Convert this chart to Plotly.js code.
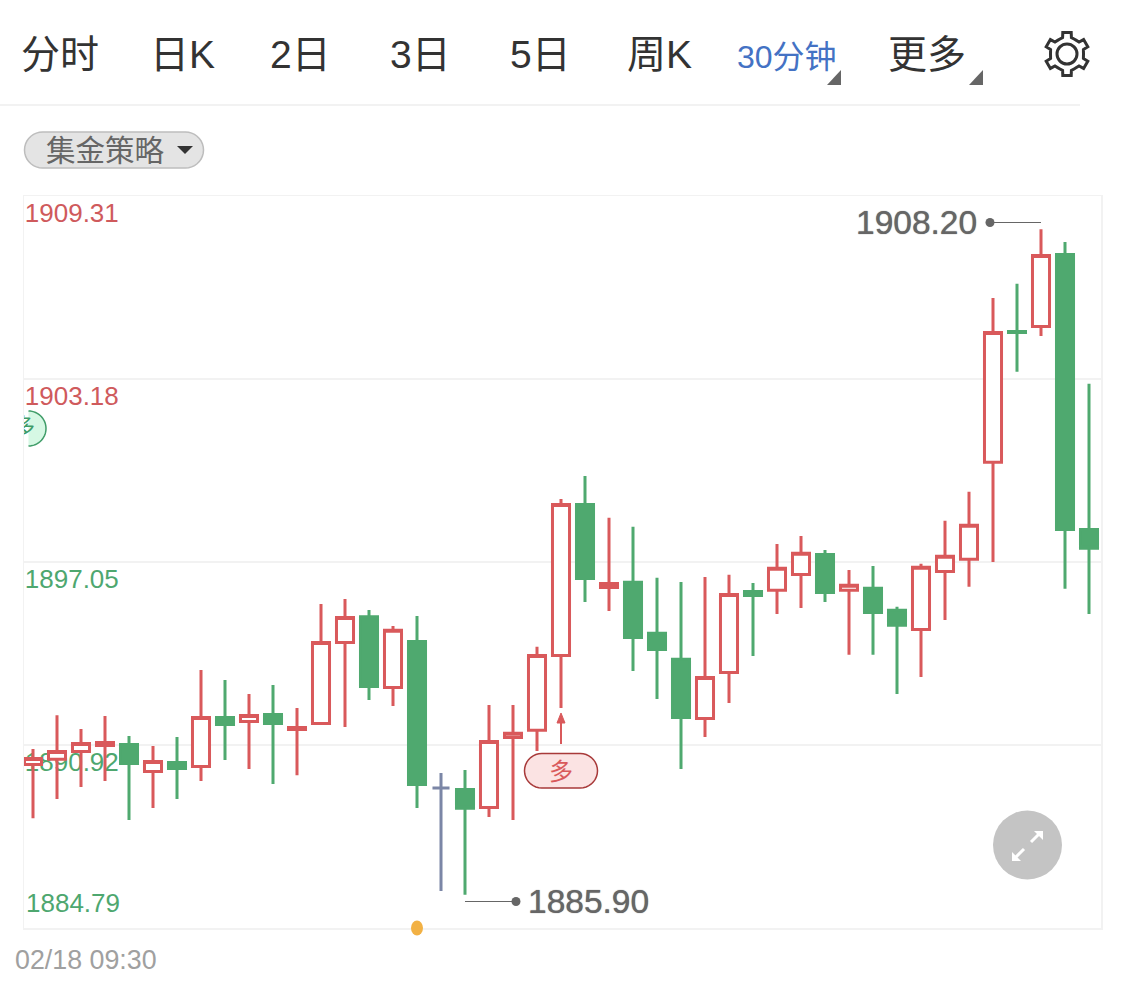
<!DOCTYPE html>
<html>
<head>
<meta charset="utf-8">
<script src="https://cdn.plot.ly/plotly-3.0.1.min.js"></script>
<style>html,body{margin:0;padding:0;background:#fff;overflow:hidden}#chart{width:1125px;height:984px}</style>
</head>
<body>
<div id="chart"></div>
<script>
const openPrices  = [1890.27,1890.44,1890.70,1890.90,1890.94,1890.03,1890.33,1890.20,1891.84,1891.71,1891.94,1891.44,1891.64,1894.35,1895.22,1892.85,1894.39,1889.48,1889.43,1888.83,1891.17,1891.41,1893.92,1898.98,1896.20,1896.37,1894.66,1893.79,1891.81,1893.35,1896.06,1896.10,1896.63,1897.30,1896.10,1896.17,1895.43,1894.79,1896.73,1897.14,1900.39,1904.77,1904.94,1907.35,1898.14];
const highPrices  = [1890.79,1891.92,1891.46,1891.89,1891.22,1890.89,1891.19,1893.43,1893.10,1892.63,1892.93,1892.16,1895.64,1895.81,1895.44,1894.91,1895.24,1889.98,1890.08,1892.26,1892.26,1894.21,1899.16,1899.93,1898.53,1898.23,1896.52,1896.38,1896.55,1896.62,1896.35,1897.65,1897.92,1897.45,1896.78,1896.92,1895.55,1896.99,1898.43,1899.40,1905.89,1906.37,1908.20,1907.77,1903.02];
const lowPrices   = [1888.47,1889.11,1889.51,1889.71,1888.41,1888.81,1889.11,1889.71,1890.42,1890.12,1889.61,1889.91,1891.59,1891.52,1892.43,1892.23,1888.81,1886.03,1885.90,1888.51,1888.41,1890.72,1892.16,1895.71,1895.41,1893.40,1892.46,1890.12,1891.19,1892.33,1893.90,1895.31,1895.51,1895.71,1893.94,1893.94,1892.63,1893.20,1895.11,1896.22,1897.05,1903.42,1904.62,1896.15,1895.31];
const closePrices = [1890.47,1890.70,1890.97,1891.00,1890.30,1890.37,1890.13,1891.84,1891.61,1891.91,1891.64,1891.51,1894.35,1895.19,1892.88,1894.76,1889.60,1889.48,1888.80,1891.04,1891.31,1893.92,1898.98,1896.50,1896.33,1894.52,1894.12,1891.84,1893.18,1895.96,1895.93,1896.84,1897.34,1896.03,1896.27,1895.36,1894.93,1896.87,1897.24,1898.28,1904.74,1904.74,1907.32,1898.14,1897.51];
const dojiIndex = 17;
const gridValues = [1909.31,1903.18,1897.05,1890.92];
const gridLabels = ['1909.31','1903.18','1897.05','1890.92'];
const gridColors = ['#cf5a5c','#cf5a5c','#4ea76f','#4ea76f'];
const bottomValue = 1884.79;
const tabs = ['分时','日K','2日','3日','5日','周K','更多'];
const tabLeft = [21,150,270,390,510,627,888];
const highLabel = '1908.20', lowLabel = '1885.90', dateLabel = '02/18 09:30';

const RED='#d9595b', GREEN='#4fa96f', GRAY='#7b86a6';
const FONT='"Liberation Sans","Noto Sans CJK SC",sans-serif';
const W=1125,H=984;
const fx=x=>x/W, fy=y=>1-y/H;
const idx=openPrices.map((_,i)=>i);
const main=idx.filter(i=>i!==dojiIndex);
const pick=(a,l)=>l.map(i=>a[i]);

const traces=[
 {type:'candlestick',x:main,open:pick(openPrices,main),high:pick(highPrices,main),low:pick(lowPrices,main),close:pick(closePrices,main),
  whiskerwidth:0,increasing:{line:{color:RED,width:3},fillcolor:'#ffffff'},decreasing:{line:{color:GREEN,width:3},fillcolor:GREEN},showlegend:false,hoverinfo:'skip'},
 {type:'candlestick',x:[dojiIndex],open:[openPrices[dojiIndex]],high:[highPrices[dojiIndex]],low:[lowPrices[dojiIndex]],close:[closePrices[dojiIndex]],
  whiskerwidth:0,increasing:{line:{color:GRAY,width:3},fillcolor:GRAY},decreasing:{line:{color:GRAY,width:3},fillcolor:GRAY},showlegend:false,hoverinfo:'skip'},
 {type:'scatter',mode:'text',x:[-0.375],y:[1901.52],text:['多'],textposition:'middle center',textfont:{family:FONT,size:22,color:'#3f9c68'},cliponaxis:true,showlegend:false,hoverinfo:'skip'}
];

function gearPath(cx,cy){
 const pts=[];
 for(let k=0;k<6;k++){
  const a=-90+60*k;
  [[a-27,16.5],[a-15,17],[a-11,22],[a+11,22],[a+15,17],[a+27,16.5]].forEach(p=>{
   const r=p[0]*Math.PI/180;pts.push([cx+p[1]*Math.cos(r),cy+p[1]*Math.sin(r)]);
  });
 }
 return 'M'+pts.map(p=>fx(p[0]).toFixed(5)+','+fy(p[1]).toFixed(5)).join(' L')+' Z';
}
const poly=(pts)=>'M'+pts.map(p=>fx(p[0]).toFixed(5)+','+fy(p[1]).toFixed(5)).join(' L')+' Z';
const open=(pts)=>'M'+pts.map(p=>fx(p[0]).toFixed(5)+','+fy(p[1]).toFixed(5)).join(' L');
function pill(x0,y0,x1,y1){
 const r=(y1-y0)/2,pts=[];
 for(let a=-90;a<=90;a+=10){const t=a*Math.PI/180;pts.push([x1-r+r*Math.cos(t),(y0+y1)/2+r*Math.sin(t)]);}
 for(let a=90;a<=270;a+=10){const t=a*Math.PI/180;pts.push([x0+r+r*Math.cos(t),(y0+y1)/2+r*Math.sin(t)]);}
 return poly(pts);
}
function clippedCircle(cx,cy,r,xmin){
 const pts=[];
 for(let a=-90;a<=90;a+=6){const t=a*Math.PI/180;pts.push([Math.max(xmin,cx+r*Math.cos(t)),cy+r*Math.sin(t)]);}
 return open(pts);
}
const P=(path,fill,line,width,layer)=>({type:'path',xref:'paper',yref:'paper',path,fillcolor:fill||'rgba(0,0,0,0)',line:{color:line||'rgba(0,0,0,0)',width:width||0},layer:layer||'above'});
const circle=(cx,cy,rx,ry,fill,line,width)=>({type:'circle',xref:'paper',yref:'paper',x0:fx(cx-rx),x1:fx(cx+rx),y0:fy(cy+ry),y1:fy(cy-ry),fillcolor:fill,line:{color:line||fill,width:width||0},layer:'above'});

const shapes=[
 {type:'line',xref:'paper',yref:'paper',x0:0,x1:fx(1080),y0:fy(105),y1:fy(105),line:{color:'#f2f2f2',width:2}},
 P(poly([[841,70],[841,85],[827,85]]),'#666666'),
 P(poly([[983,70],[983,85],[969,85]]),'#666666'),
 P(gearPath(1067,54),null,'#333333',3),
 circle(1067,54,10,10,'rgba(0,0,0,0)','#333333',3),
 P(pill(24.5,132,203.5,168),'#e4e4e4','#bdbdbd',1.5),
 P(poly([[177,146],[193,146],[185,154]]),'#333333'),
 P(clippedCircle(28.5,428.5,17.5,24),'#d6f8e4','#3f9c68',1.5,'between'),
 P(pill(524.5,753.5,597.5,788),'#fbe3e3','#a83a3a',1.5),
 P(open([[561,744],[561,722]]),null,RED,2),
 P(poly([[561,713],[565,723],[557,723]]),RED,RED,1),
 P(open([[1041,222.5],[990,222.5]]),null,'#666666',1),
 circle(990,222.5,4.5,4.5,'#666666'),
 P(open([[465,901.5],[516,901.5]]),null,'#666666',1),
 circle(516,901.5,4.5,4.5,'#666666'),
 circle(417,928,6,7.5,'#f2b144'),
 circle(1027.5,845,34.5,34.5,'#c4c4c4'),
 P(open([[1031,842],[1040,833]]),null,'#ffffff',3),
 P(poly([[1043,831],[1043,840],[1034,831]]),'#ffffff'),
 P(open([[1024,849],[1015,858]]),null,'#ffffff',3),
 P(poly([[1012,861],[1012,852],[1021,861]]),'#ffffff')
];
const T=(text,x,y,size,color,xanchor,extra)=>Object.assign({xref:'paper',yref:'paper',x:fx(x),y:fy(y),text,showarrow:false,xanchor:xanchor||'left',yanchor:'middle',font:{family:FONT,size,color},borderpad:0,borderwidth:0},extra||{});
const annotations=tabs.map((t,i)=>T(t,tabLeft[i],54,39,'#333333'));
annotations.push(
 T('30分钟',737,57,32,'#4472c4'),
 T('集金策略',46,150,29.5,'#666666'),
 T('多',561,771,24,RED,'center'),
 T(highLabel,977,223,33.5,'#666666','right',{font:{family:FONT,size:33.5,color:'#666666',shadow:'0 0 1px #666666'}}),
 T(lowLabel,528,901,33.5,'#666666','left',{font:{family:FONT,size:33.5,color:'#666666',shadow:'0 0 1px #666666'}}),
 T(dateLabel,15,960,26.8,'#a0a0a0'),
 {xref:'paper',yref:'y',x:fx(24),y:bottomValue,yshift:25,text:String(bottomValue),showarrow:false,xanchor:'left',yanchor:'middle',font:{family:FONT,size:26,color:gridColors[3]}}
);

const layout={
 width:W,height:H,margin:{l:0,r:0,t:0,b:0,pad:0},paper_bgcolor:'#fff',plot_bgcolor:'#fff',showlegend:false,hovermode:false,boxgap:0.29,boxgroupgap:0,
 xaxis:{domain:[fx(24),fx(1101)],range:[-0.375,44.5],type:'linear',rangeslider:{visible:false},showgrid:false,zeroline:false,showticklabels:false,ticks:'',showline:true,mirror:true,linecolor:'#f2f2f2',linewidth:1.5},
 yaxis:{domain:[fy(928),fy(196)],range:[bottomValue,1909.31],tickmode:'array',tickvals:gridValues,
  ticktext:gridLabels.map((l,i)=>`<span style="color:${gridColors[i]}">${l}</span>`),
  ticklabelposition:'inside',ticklabeloverflow:'allow',ticklabelshift:17,ticklabelstandoff:3,layer:'below traces',
  tickfont:{family:FONT,size:26},ticks:'',showgrid:true,gridcolor:'#f2f2f2',gridwidth:1.5,zeroline:false,showline:true,mirror:true,linecolor:'#f2f2f2',linewidth:1.5},
 shapes,annotations,font:{family:FONT}
};
Plotly.newPlot('chart',traces,layout,{displayModeBar:false,staticPlot:true});
</script>
</body>
</html>
